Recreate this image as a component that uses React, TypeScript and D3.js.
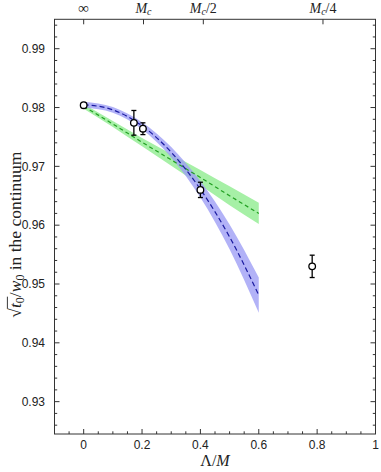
import React, { useLayoutEffect, useRef, useState } from 'react';
import * as d3 from 'd3';

const W = 381;
const H = 472;

// axis ticks
const xTicks = [0, 0.2, 0.4, 0.6, 0.8, 1];
const xTickLabels = ['0', '0.2', '0.4', '0.6', '0.8', '1'];
const yTicks = [0.93, 0.94, 0.95, 0.96, 0.97, 0.98, 0.99];
const yTickLabels = ['0.93', '0.94', '0.95', '0.96', '0.97', '0.98', '0.99'];
const topTicks = [0, 0.205, 0.41, 0.82];
const topLabelBase = ['∞', 'M', 'M', 'M'];
const topLabelSub = ['', 'c', 'c', 'c'];
const topLabelTail = ['', '', '/2', '/4'];

// data points
const ptX = [0, 0.172, 0.203, 0.4, 0.783];
const ptY = [0.9804, 0.9774, 0.9764, 0.966, 0.953];
const ptErr = [0.0004, 0.0021, 0.001, 0.0013, 0.0019];

// fit curves
const fitX = [0, 0.1, 0.2, 0.3, 0.4, 0.5, 0.6];
const blueMid = [0.9805, 0.9796, 0.9769, 0.9724, 0.9661, 0.958, 0.9481];
const blueHi = [0.981, 0.9801, 0.9775, 0.9733, 0.9675, 0.9601, 0.9511];
const blueLo = [0.98, 0.9791, 0.9763, 0.9715, 0.9647, 0.9559, 0.9451];
const greenMid = [0.9802, 0.9772, 0.9741, 0.9711, 0.9681, 0.965, 0.962];
const greenHi = [0.9806, 0.9777, 0.9748, 0.9721, 0.9694, 0.9666, 0.9638];
const greenLo = [0.9798, 0.9767, 0.9734, 0.9701, 0.9668, 0.9634, 0.9602];

const L = 54.5, R = 375.5, T = 19.3, B = 434;

export default function App() {
  const x = d3.scaleLinear().domain([-0.1, 1]).range([L, R]);
  const y = d3.scaleLinear().domain([0.9245, 0.995]).range([B, T]);
  const labelRef = useRef<SVGTextElement>(null);
  const [bar, setBar] = useState<{ x1: number; x2: number } | null>(null);

  useLayoutEffect(() => {
    const el = labelRef.current;
    if (!el) return;
    try {
      const s1 = el.getStartPositionOfChar(1);
      const e2 = el.getEndPositionOfChar(2);
      setBar({ x1: s1.x - 0.5, x2: e2.x + 0.5 });
    } catch (err) {
      /* ignore */
    }
  }, []);

  const area = (lo: number[], hi: number[]) =>
    d3.area<number>()
      .x((_, i) => x(fitX[i]))
      .y0((_, i) => y(lo[i]))
      .y1((_, i) => y(hi[i]))
      .curve(d3.curveMonotoneX)(fitX) || '';
  const line = (m: number[]) =>
    d3.line<number>()
      .x((_, i) => x(fitX[i]))
      .y((_, i) => y(m[i]))
      .curve(d3.curveMonotoneX)(fitX) || '';

  const xMinor = d3.range(-0.05, 1.0001, 0.05).filter(v => !xTicks.some(t => Math.abs(t - v) < 1e-6));
  const yMinor = d3.range(0.926, 0.995, 0.002).filter(v => !yTicks.some(t => Math.abs(t - v) < 1e-6));

  const axisColor = '#333';
  const sans = 'Liberation Sans, Arial, sans-serif';
  const serif = 'Liberation Serif, Times New Roman, serif';

  return (
    <svg width={W} height={H} style={{ position: 'absolute', left: 0, top: 0 }}>
      <rect width={W} height={H} fill="#fff" />
      {/* bands */}
      <path d={area(greenLo, greenHi)} fill="#a6f0a6" />
      <path d={area(blueLo, blueHi)} fill="#9f9ff5" fillOpacity={0.8} />
      <path d={line(greenMid)} fill="none" stroke="#22a022" strokeWidth={1.2} strokeDasharray="4,3" />
      <path d={line(blueMid)} fill="none" stroke="#1a1aa0" strokeWidth={1.2} strokeDasharray="5,3" />

      {/* points */}
      {ptX.map((px, i) => {
        const cx = x(px);
        const y1 = y(ptY[i] + ptErr[i]);
        const y2 = y(ptY[i] - ptErr[i]);
        return (
          <g key={i} stroke="#000" strokeWidth={1.3}>
            <line x1={cx} x2={cx} y1={y1} y2={y2} />
            <line x1={cx - 2.5} x2={cx + 2.5} y1={y1} y2={y1} />
            <line x1={cx - 2.5} x2={cx + 2.5} y1={y2} y2={y2} />
            <circle cx={cx} cy={y(ptY[i])} r={3.3} fill="#fff" />
          </g>
        );
      })}

      {/* frame */}
      <rect x={L} y={T} width={R - L} height={B - T} fill="none" stroke={axisColor} strokeWidth={1} />

      {/* bottom ticks */}
      {xTicks.map((t, i) => (
        <g key={'xt' + i}>
          <line x1={x(t)} x2={x(t)} y1={B} y2={B - 5} stroke={axisColor} />
          <text x={x(t)} y={449} textAnchor="middle" fontFamily={sans} fontSize={12} fill="#222">{xTickLabels[i]}</text>
        </g>
      ))}
      {xMinor.map((t, i) => (
        <line key={'xm' + i} x1={x(t)} x2={x(t)} y1={B} y2={B - 2.7} stroke={axisColor} />
      ))}
      {/* top ticks */}
      {topTicks.map((t, i) => (
        <g key={'tt' + i}>
          <line x1={x(t)} x2={x(t)} y1={T} y2={T + 5} stroke={axisColor} />
          <text x={x(t)} y={13} textAnchor="middle" fontFamily={serif} fontSize={i === 0 ? 15 : 14} fill="#222">
            {i === 0 ? topLabelBase[i] : (
              <>
                <tspan fontStyle="italic">{topLabelBase[i]}</tspan>
                <tspan fontStyle="italic" fontSize={10} dy={2}>{topLabelSub[i]}</tspan>
                <tspan dy={-2}>{topLabelTail[i]}</tspan>
              </>
            )}
          </text>
        </g>
      ))}
      {/* y ticks */}
      {yTicks.map((t, i) => (
        <g key={'yt' + i}>
          <line x1={L} x2={L + 5} y1={y(t)} y2={y(t)} stroke={axisColor} />
          <line x1={R} x2={R - 5} y1={y(t)} y2={y(t)} stroke={axisColor} />
          <text x={45} y={y(t) + 4.3} textAnchor="end" fontFamily={sans} fontSize={12} fill="#222">{yTickLabels[i]}</text>
        </g>
      ))}
      {yMinor.map((t, i) => (
        <g key={'ym' + i}>
          <line x1={L} x2={L + 2.7} y1={y(t)} y2={y(t)} stroke={axisColor} />
          <line x1={R} x2={R - 2.7} y1={y(t)} y2={y(t)} stroke={axisColor} />
        </g>
      ))}

      {/* x label */}
      <text x={x(0.45)} y={466} textAnchor="middle" fontFamily={serif} fontSize={16} fill="#222">
        Λ/<tspan fontStyle="italic">M</tspan>
      </text>

      {/* y label */}
      <g transform={`translate(21,${(T + B) / 2 + 8}) rotate(-90)`}>
        <text ref={labelRef} x={0} y={0} textAnchor="middle" fontFamily={serif} fontSize={17.5} fill="#222">
          √<tspan fontStyle="italic">t</tspan>
          <tspan fontSize={12} dy={3}>0</tspan>
          <tspan dy={-3}>/</tspan>
          <tspan fontStyle="italic">w</tspan>
          <tspan fontSize={12} dy={3}>0</tspan>
          <tspan dy={-3}> in the continuum</tspan>
        </text>
        {bar && <line x1={bar.x1} x2={bar.x2} y1={-13.6} y2={-13.6} stroke="#222" strokeWidth={0.9} />}
      </g>
    </svg>
  );
}
